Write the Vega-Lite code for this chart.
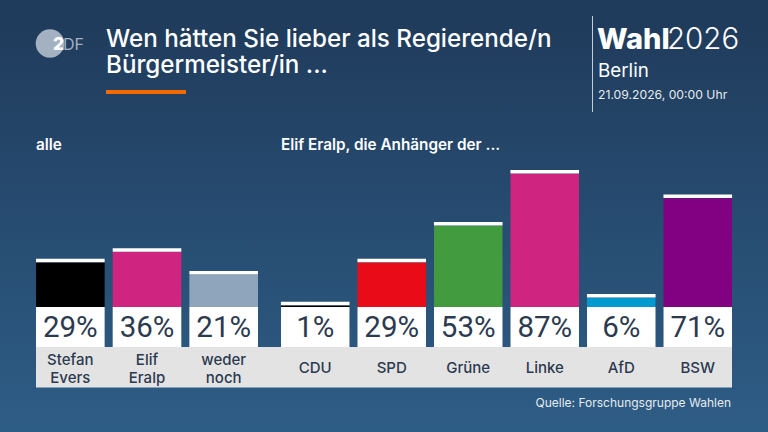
{
  "$schema": "https://vega.github.io/schema/vega-lite/v6.json",
  "width": 768,
  "height": 432,
  "padding": 0,
  "autosize": {"type": "fit", "contains": "padding"},
  "background": "#24466b",
  "config": {"view": {"stroke": null}, "text": {"font": "Inter"}},
  "datasets": {
    "alle": [
      {"name": "Stefan\nEvers", "value": 0.29},
      {"name": "Elif\nEralp", "value": 0.36},
      {"name": "weder\nnoch", "value": 0.21}
    ],
    "anhaenger": [
      {"name": "CDU", "value": 0.01},
      {"name": "SPD", "value": 0.29},
      {"name": "Grüne", "value": 0.53},
      {"name": "Linke", "value": 0.87},
      {"name": "AfD", "value": 0.06},
      {"name": "BSW", "value": 0.71}
    ]
  },
  "data": {"values": [{"note": "annotations"}]},
  "resolve": {"scale": {"x": "independent"}},
  "layer": [
    {"mark": {"type": "rect", "x": 0, "x2": 768, "y": 0, "y2": 432,
      "fill": {"gradient": "linear", "x1": 0, "y1": 0, "x2": 0, "y2": 1,
        "stops": [{"offset": 0, "color": "#1f3a5a"}, {"offset": 1, "color": "#2e5d86"}]}}, "encoding": {}},
    {"mark": {"type": "text", "text": ["Wen hätten Sie lieber als Regierende/n", "Bürgermeister/in ..."],
      "x": 106, "y": 46.5, "align": "left", "baseline": "alphabetic", "fontSize": 24.2, "fontWeight": 500, "lineHeight": 26.5, "color": "#ffffff"}, "encoding": {}},
    {"mark": {"type": "rect", "x": 106, "x2": 186, "y": 90, "y2": 94, "fill": "#f56a00"}, "encoding": {}},
    {"mark": {"type": "arc", "x": 50, "y": 43.5, "radius": 14.3, "theta": 0, "theta2": 6.2832, "fill": "#a4b1c1"}, "encoding": {}},
    {"mark": {"type": "text", "text": "2", "x": 53, "y": 50, "align": "left", "baseline": "alphabetic", "fontSize": 17.5, "fontWeight": 800, "color": "#ffffff"}, "encoding": {}},
    {"mark": {"type": "text", "text": "DF", "x": 63, "y": 50, "align": "left", "baseline": "alphabetic", "fontSize": 16, "fontWeight": 400, "color": "#a4b1c1"}, "encoding": {}},
    {"mark": {"type": "rect", "x": 592, "x2": 593, "y": 16, "y2": 112, "fill": "#c4ccd6"}, "encoding": {}},
    {"mark": {"type": "text", "text": "Wahl", "x": 597, "y": 48.5, "align": "left", "baseline": "alphabetic", "fontSize": 29, "fontWeight": 800, "color": "#ffffff"}, "encoding": {}},
    {"mark": {"type": "text", "text": "2026", "x": 667, "y": 48.5, "align": "left", "baseline": "alphabetic", "fontSize": 29.5, "fontWeight": 300, "color": "#ffffff"}, "encoding": {}},
    {"mark": {"type": "text", "text": "Berlin", "x": 598, "y": 77, "align": "left", "baseline": "alphabetic", "fontSize": 18.8, "fontWeight": 400, "color": "#ffffff"}, "encoding": {}},
    {"mark": {"type": "text", "text": "21.09.2026, 00:00 Uhr", "x": 598, "y": 99, "align": "left", "baseline": "alphabetic", "fontSize": 12.2, "fontWeight": 400, "color": "#e6ebf0"}, "encoding": {}},
    {"mark": {"type": "text", "text": "Quelle: Forschungsgruppe Wahlen", "x": 731, "y": 406.5, "align": "right", "baseline": "alphabetic", "fontSize": 12, "fontWeight": 400, "color": "#e6ebf0"}, "encoding": {}},
    {"mark": {"type": "rect", "x": 36, "x2": 732, "fill": "#e4e3e3"},
      "encoding": {
        "y": {"datum": -0.261, "type": "quantitative", "scale": {"domain": [-0.817, 2.006], "range": [432, 0], "nice": false, "zero": false}, "axis": null},
        "y2": {"datum": -0.526}
      }},
    {
      "data": {"name": "alle"},
      "encoding": {
        "x": {"field": "name", "type": "nominal", "sort": null, "axis": null,
          "scale": {"range": [36, 258], "paddingInner": 0.105, "paddingOuter": 0}}
      },
      "layer": [
        {"mark": {"type": "bar", "color": "#ffffff"},
          "encoding": {"y": {"datum": 0, "type": "quantitative", "axis": null}, "y2": {"datum": -0.261}}},
        {"mark": {"type": "bar"},
          "encoding": {
            "y": {"field": "value", "type": "quantitative", "axis": null},
            "y2": {"datum": 0},
            "color": {"field": "name", "type": "nominal", "legend": null,
              "scale": {"domain": ["Stefan\nEvers", "Elif\nEralp", "weder\nnoch", "CDU", "SPD", "Grüne", "Linke", "AfD", "BSW"],
                "range": ["#000000", "#cf2580", "#8fa5bc", "#000000", "#e90b17", "#429c3f", "#cf2580", "#0099d0", "#820082"]}}
          }},
        {"mark": {"type": "tick", "color": "#ffffff", "opacity": 1, "size": 68.6, "thickness": 3.5, "yOffset": -2},
          "encoding": {"y": {"field": "value", "type": "quantitative", "axis": null}}},
        {"mark": {"type": "text", "font": "Roboto", "fontSize": 29.5, "fontWeight": 400, "color": "#2c3a50", "baseline": "middle"},
          "encoding": {
            "y": {"datum": -0.14, "type": "quantitative", "axis": null},
            "text": {"field": "value", "type": "quantitative", "format": ".0%"}
          }},
        {"mark": {"type": "text", "fontSize": 15, "fontWeight": 500, "color": "#2c3a50", "baseline": "middle", "lineBreak": "\n", "lineHeight": 18},
          "encoding": {
            "y": {"datum": -0.348, "type": "quantitative", "axis": null},
            "text": {"field": "name"}
          }},
        {"transform": [{"filter": "datum.name === 'Stefan\\nEvers'"}],
          "mark": {"type": "text", "text": "alle", "align": "left", "baseline": "middle", "fontSize": 15.3, "fontWeight": 600, "color": "#ffffff"},
          "encoding": {
            "x": {"field": "name", "type": "nominal", "bandPosition": 0},
            "y": {"datum": 1.056, "type": "quantitative", "axis": null}
          }}
      ]
    },
    {
      "data": {"name": "anhaenger"},
      "encoding": {
        "x": {"field": "name", "type": "nominal", "sort": null, "axis": null,
          "scale": {"range": [281, 732], "paddingInner": 0.105, "paddingOuter": 0}}
      },
      "layer": [
        {"mark": {"type": "bar", "color": "#ffffff"},
          "encoding": {"y": {"datum": 0, "type": "quantitative", "axis": null}, "y2": {"datum": -0.261}}},
        {"mark": {"type": "bar"},
          "encoding": {
            "y": {"field": "value", "type": "quantitative", "axis": null},
            "y2": {"datum": 0},
            "color": {"field": "name", "type": "nominal", "legend": null,
              "scale": {"domain": ["Stefan\nEvers", "Elif\nEralp", "weder\nnoch", "CDU", "SPD", "Grüne", "Linke", "AfD", "BSW"],
                "range": ["#000000", "#cf2580", "#8fa5bc", "#000000", "#e90b17", "#429c3f", "#cf2580", "#0099d0", "#820082"]}}
          }},
        {"mark": {"type": "tick", "color": "#ffffff", "opacity": 1, "size": 68.6, "thickness": 3.5, "yOffset": -2},
          "encoding": {"y": {"field": "value", "type": "quantitative", "axis": null}}},
        {"mark": {"type": "text", "font": "Roboto", "fontSize": 29.5, "fontWeight": 400, "color": "#2c3a50", "baseline": "middle"},
          "encoding": {
            "y": {"datum": -0.14, "type": "quantitative", "axis": null},
            "text": {"field": "value", "type": "quantitative", "format": ".0%"}
          }},
        {"mark": {"type": "text", "fontSize": 15, "fontWeight": 500, "color": "#2c3a50", "baseline": "middle"},
          "encoding": {
            "y": {"datum": -0.402, "type": "quantitative", "axis": null},
            "text": {"field": "name"}
          }},
        {"transform": [{"filter": "datum.name === 'CDU'"}],
          "mark": {"type": "text", "text": "Elif Eralp, die Anhänger der ...", "align": "left", "baseline": "middle", "fontSize": 15.3, "fontWeight": 600, "color": "#ffffff"},
          "encoding": {
            "x": {"field": "name", "type": "nominal", "bandPosition": 0},
            "y": {"datum": 1.056, "type": "quantitative", "axis": null}
          }}
      ]
    }
  ]
}
